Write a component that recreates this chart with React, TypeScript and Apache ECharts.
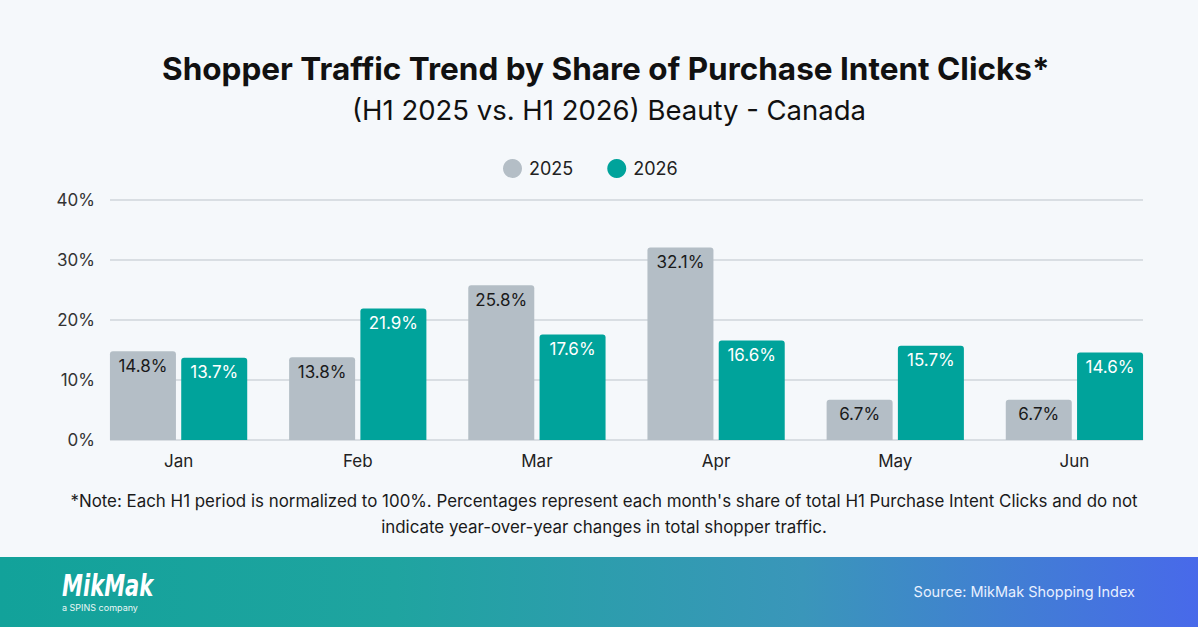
import React, { useEffect, useRef } from "react";
import * as echarts from "echarts";

const months = ["Jan", "Feb", "Mar", "Apr", "May", "Jun"];
const share2025 = [14.8, 13.8, 25.8, 32.1, 6.7, 6.7];
const share2026 = [13.7, 21.9, 17.6, 16.6, 15.7, 14.6];
const yTicks = { min: 0, max: 40, interval: 10 };

const FONT = "Inter, 'Noto Sans', sans-serif";
const GRAY = "#b4bec6";
const TEAL = "#00a39b";

export default function App() {
  const ref = useRef<HTMLDivElement>(null);

  useEffect(() => {
    if (!ref.current) return;
    const chart = echarts.init(ref.current, undefined, { renderer: "svg" });
    const barLabel = (color: string) => ({
      show: true,
      position: "insideTop" as const,
      distance: 6,
      formatter: "{c}%",
      color,
      fontFamily: FONT,
      fontSize: 17,
    });
    chart.setOption({
      animation: false,
      backgroundColor: "#f5f8fb",
      textStyle: { fontFamily: FONT },
      title: [
        {
          text: "Shopper Traffic Trend by Share of Purchase Intent Clicks*",
          left: 157,
          top: 47,
          textStyle: { fontSize: 31.5, fontWeight: "bold", color: "#111", fontFamily: FONT },
        },
        {
          text: "(H1 2025 vs. H1 2026) Beauty - Canada",
          left: 347,
          top: 91,
          textStyle: { fontSize: 27.5, fontWeight: "normal", color: "#111", fontFamily: FONT },
        },
      ],
      legend: {
        top: 154,
        left: 498,
        icon: "circle",
        itemWidth: 19,
        itemHeight: 19,
        itemGap: 34,
        textStyle: { fontSize: 18, color: "#222", fontFamily: FONT, padding: [0, 0, 0, 2] },
        data: ["2025", "2026"],
      },
      grid: [
        { left: 110, right: 55, top: 200, bottom: 187 },
        { left: 89, right: 34, top: 200, bottom: 187 },
      ],
      xAxis: [
        { type: "category", gridIndex: 0, data: months, show: false },
        {
          type: "category",
          gridIndex: 1,
          data: months,
          axisLine: { show: false },
          axisTick: { show: false },
          axisLabel: { color: "#222", fontSize: 17, margin: 12, fontFamily: FONT },
        },
      ],
      yAxis: [
        {
          type: "value",
          gridIndex: 0,
          ...yTicks,
          axisLine: { show: false },
          axisTick: { show: false },
          axisLabel: { formatter: "{value}%", color: "#333", fontSize: 17, margin: 15, fontFamily: FONT },
          splitLine: { lineStyle: { color: "#d9dee3", width: 2 } },
        },
        { type: "value", gridIndex: 1, ...yTicks, show: false },
      ],
      series: [
        {
          name: "2025",
          type: "bar",
          xAxisIndex: 1,
          yAxisIndex: 1,
          data: share2025,
          barWidth: 66,
          barGap: "8%",
          itemStyle: { color: GRAY, borderRadius: [3, 3, 0, 0] },
          label: barLabel("#1a1a1a"),
        },
        {
          name: "2026",
          type: "bar",
          xAxisIndex: 1,
          yAxisIndex: 1,
          data: share2026,
          barWidth: 66,
          barGap: "8%",
          itemStyle: { color: TEAL, borderRadius: [3, 3, 0, 0] },
          label: barLabel("#ffffff"),
        },
      ],
      graphic: [
        {
          type: "text",
          x: 604,
          y: 488,
          style: {
            text:
              "*Note: Each H1 period is normalized to 100%. Percentages represent each month's share of total H1 Purchase Intent Clicks and do not\nindicate year-over-year changes in total shopper traffic.",
            align: "center",
            verticalAlign: "top",
            fontSize: 16.9,
            lineHeight: 26,
            fill: "#1a1a1a",
            fontFamily: FONT,
          },
        },
        {
          type: "rect",
          left: 0,
          top: 557,
          shape: { width: 1198, height: 70 },
          style: {
            fill: new echarts.graphic.LinearGradient(0, 0, 1, 0, [
              { offset: 0, color: "#12a29a" },
              { offset: 0.33, color: "#1fa4a0" },
              { offset: 0.67, color: "#3a96ba" },
              { offset: 1, color: "#4869ea" },
            ]),
          },
        },
        {
          type: "text",
          x: 62,
          y: 570,
          scaleX: 0.78,
          style: {
            text: "MikMak",
            fontSize: 30,
            fontWeight: "bold",
            fontStyle: "italic",
            fill: "#ffffff",
            fontFamily: "'DejaVu Sans Condensed', 'Liberation Sans Narrow', sans-serif",
          },
        },
        {
          type: "text",
          x: 62,
          y: 603,
          style: { text: "a SPINS company", fontSize: 9, fill: "#eaf7f6", fontFamily: FONT },
        },
        {
          type: "text",
          right: 63,
          top: 584,
          style: { text: "Source: MikMak Shopping Index", fontSize: 14.5, fill: "#e8f0ff", fontFamily: FONT },
        },
      ],
    });
    return () => chart.dispose();
  }, []);

  return (
    <div
      ref={ref}
      style={{ position: "absolute", left: 0, top: 0, width: 1198, height: 627 }}
    />
  );
}
